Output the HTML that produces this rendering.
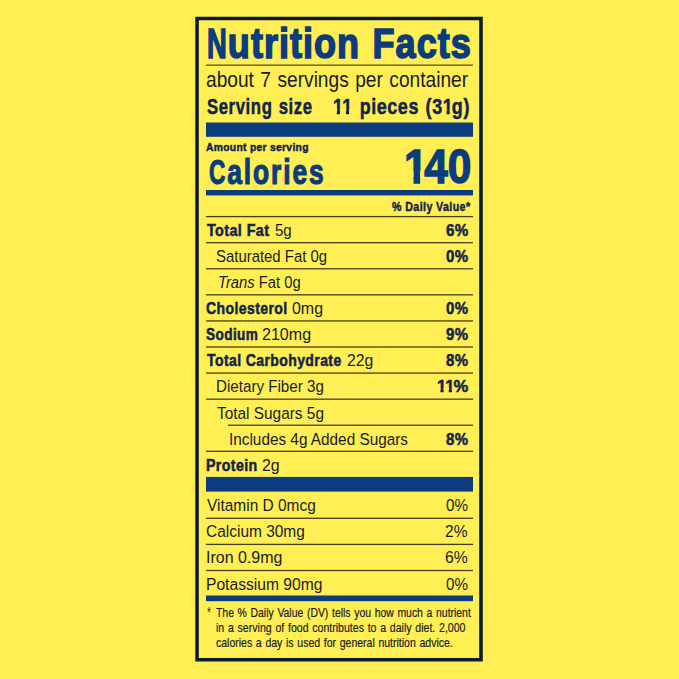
<!DOCTYPE html><html><head><meta charset="utf-8"><title>Nutrition Facts</title><style>
html,body{margin:0;padding:0;width:679px;height:679px;overflow:hidden;background:#ffef55}
body{position:relative;font-family:"Liberation Sans",Arial,sans-serif}
.t{position:absolute;white-space:nowrap;line-height:1;transform-origin:0 0}
.one{display:inline-block;clip-path:polygon(-20% -20%,120% -20%,120% .6em,calc(.3706em + .45px) .6em,calc(.3706em + .45px) 130%,calc(.2334em - .45px) 130%,calc(.2334em - .45px) .6em,-20% .6em);margin-right:-.08em}.cc{display:inline-block;transform:scaleX(.86);transform-origin:0 0;margin-right:-.1em}.nn{display:inline-block;transform:scaleX(.76);transform-origin:0 0;margin-right:-7.4px}.t b{font-weight:bold;-webkit-text-stroke:0.55px #12244a}.t i{font-style:italic}
.g{position:absolute;left:0;top:0}
</style></head><body>
<svg class="g" width="679" height="679" viewBox="0 0 679 679">
<path fill="#0a1b33" fill-rule="evenodd" d="M195.3 16.8H482.8V661.4H195.3Z M198.8 20.2V658H479.2V20.2Z"/>
<rect x="206" y="64.5" width="267" height="1.3" fill="#5a5328"/>
<rect x="206" y="122.5" width="267" height="14.3" fill="#0b3c7d"/>
<rect x="206" y="190" width="267" height="5.4" fill="#0b3c7d"/>
<rect x="206" y="476.9" width="267" height="14.7" fill="#0b3c7d"/>
<rect x="206" y="595.5" width="267" height="5.7" fill="#0b3c7d"/>
<rect x="206" y="215.95" width="267" height="1.3" fill="#463f16"/>
<rect x="206" y="242.03" width="267" height="1.3" fill="#463f16"/>
<rect x="206" y="268.11" width="267" height="1.3" fill="#463f16"/>
<rect x="206" y="294.19" width="267" height="1.3" fill="#463f16"/>
<rect x="206" y="320.27" width="267" height="1.3" fill="#463f16"/>
<rect x="206" y="346.35" width="267" height="1.3" fill="#463f16"/>
<rect x="206" y="372.43" width="267" height="1.3" fill="#463f16"/>
<rect x="206" y="398.51" width="267" height="1.3" fill="#463f16"/>
<rect x="228" y="424.59" width="245" height="1.3" fill="#463f16"/>
<rect x="206" y="450.67" width="267" height="1.3" fill="#463f16"/>
<rect x="206" y="517.65" width="267" height="1.3" fill="#463f16"/>
<rect x="206" y="543.75" width="267" height="1.3" fill="#463f16"/>
<rect x="206" y="569.85" width="267" height="1.3" fill="#463f16"/>
</svg>
<div class="t" id="title" style="left:206.76px;top:22.43px;font-size:42.90px;color:#0b3c7d;transform:scaleX(0.8410);font-weight:bold;-webkit-text-stroke:1.60px #0b3c7d;letter-spacing:1.19px;word-spacing:1.78px"><span class="nn">N</span>utrition Facts</div>
<div class="t" id="about" style="left:206.14px;top:68.50px;font-size:22.00px;color:#181d28;transform:scaleX(0.8691);word-spacing:1.38px">about 7 servings per container</div>
<div class="t" id="ss" style="left:206.98px;top:95.66px;font-size:22.40px;color:#12244a;transform:scaleX(0.7458);font-weight:bold;-webkit-text-stroke:0.50px #12244a;letter-spacing:0.80px;word-spacing:1.34px">Serving size</div>
<div class="t" id="ssv" style="left:332.92px;top:95.91px;font-size:22.40px;color:#12244a;transform:scaleX(0.8000);font-weight:bold;-webkit-text-stroke:0.50px #12244a;letter-spacing:0.75px;word-spacing:1.25px"><span class="one">1</span><span class="one" style="margin-right:.02em">1</span> pieces (3<span class="one">1</span>g)</div>
<div class="t" id="amt" style="left:206.17px;top:142.08px;font-size:11.40px;color:#12244a;transform:scaleX(0.9050);font-weight:bold;-webkit-text-stroke:0.45px #12244a;letter-spacing:0.33px">Amount per serving</div>
<div class="t" id="cal" style="left:209.07px;top:155.45px;font-size:35.70px;color:#0b3c7d;transform:scaleX(0.7382);font-weight:bold;-webkit-text-stroke:1.20px #0b3c7d;letter-spacing:2.57px"><span class="cc">C</span>alories</div>
<div class="t" id="calv" style="left:404.23px;top:142.06px;font-size:48.40px;color:#0b3c7d;transform:scaleX(0.8772);font-weight:bold;-webkit-text-stroke:1.40px #0b3c7d"><span class="one">1</span>40</div>
<div class="t" id="dv" style="left:391.60px;top:200.63px;font-size:12.70px;color:#12244a;transform:scaleX(0.8395);font-weight:bold;-webkit-text-stroke:0.45px #12244a;letter-spacing:0.48px">% Daily Value*</div>
<div class="t" id="r0b" style="left:207.03px;top:221.85px;font-size:17.40px;color:#12244a;transform:scaleX(0.8265);font-weight:bold;-webkit-text-stroke:0.55px #12244a;letter-spacing:0.48px">Total Fat</div>
<div class="t" id="r0" style="left:275.14px;top:221.87px;font-size:17.20px;color:#181d28;transform:scaleX(0.8760)">5g</div>
<div class="t" id="r0p" style="left:446.23px;top:222.14px;font-size:17.40px;color:#12244a;transform:scaleX(0.8717);font-weight:bold;-webkit-text-stroke:0.55px #12244a;letter-spacing:0.46px">6%</div>
<div class="t" id="r1" style="left:215.54px;top:248.48px;font-size:17.20px;color:#181d28;transform:scaleX(0.8676)">Saturated Fat 0g</div>
<div class="t" id="r1p" style="left:446.10px;top:247.64px;font-size:17.40px;color:#12244a;transform:scaleX(0.8609);font-weight:bold;-webkit-text-stroke:0.55px #12244a;letter-spacing:0.46px">0%</div>
<div class="t" id="r2" style="left:217.66px;top:274.18px;font-size:17.20px;color:#181d28;transform:scaleX(0.8596)"><i>Trans</i> Fat 0g</div>
<div class="t" id="r3b" style="left:206.06px;top:300.09px;font-size:17.40px;color:#12244a;transform:scaleX(0.8070);font-weight:bold;-webkit-text-stroke:0.55px #12244a;letter-spacing:0.50px">Cholesterol</div>
<div class="t" id="r3" style="left:292.00px;top:300.27px;font-size:17.20px;color:#181d28;transform:scaleX(0.9278)">0mg</div>
<div class="t" id="r3p" style="left:446.10px;top:299.84px;font-size:17.40px;color:#12244a;transform:scaleX(0.8609);font-weight:bold;-webkit-text-stroke:0.55px #12244a;letter-spacing:0.46px">0%</div>
<div class="t" id="r4b" style="left:206.18px;top:325.91px;font-size:17.40px;color:#12244a;transform:scaleX(0.7827);font-weight:bold;-webkit-text-stroke:0.55px #12244a;letter-spacing:0.51px">Sodium</div>
<div class="t" id="r4" style="left:262.35px;top:325.87px;font-size:17.20px;color:#181d28;transform:scaleX(0.9338)">210mg</div>
<div class="t" id="r4p" style="left:446.49px;top:326.29px;font-size:17.40px;color:#12244a;transform:scaleX(0.8613);font-weight:bold;-webkit-text-stroke:0.55px #12244a;letter-spacing:0.46px">9%</div>
<div class="t" id="r5b" style="left:206.97px;top:351.89px;font-size:17.40px;color:#12244a;transform:scaleX(0.8054);font-weight:bold;-webkit-text-stroke:0.55px #12244a;letter-spacing:0.50px">Total Carbohydrate</div>
<div class="t" id="r5" style="left:346.54px;top:351.87px;font-size:17.20px;color:#181d28;transform:scaleX(0.9166)">22g</div>
<div class="t" id="r5p" style="left:446.26px;top:352.04px;font-size:17.40px;color:#12244a;transform:scaleX(0.8587);font-weight:bold;-webkit-text-stroke:0.55px #12244a;letter-spacing:0.47px">8%</div>
<div class="t" id="r6" style="left:215.84px;top:377.78px;font-size:17.20px;color:#181d28;transform:scaleX(0.8818)">Dietary Fiber 3g</div>
<div class="t" id="r6p" style="left:436.97px;top:377.66px;font-size:17.40px;color:#12244a;transform:scaleX(0.9543);font-weight:bold;-webkit-text-stroke:0.55px #12244a;letter-spacing:0.42px"><span class="one">1</span><span class="one">1</span>%</div>
<div class="t" id="r7" style="left:217.20px;top:404.68px;font-size:17.20px;color:#181d28;transform:scaleX(0.8956)">Total Sugars 5g</div>
<div class="t" id="r8" style="left:229.26px;top:431.18px;font-size:17.20px;color:#181d28;transform:scaleX(0.8920)">Includes 4g Added Sugars</div>
<div class="t" id="r8p" style="left:446.26px;top:430.84px;font-size:17.40px;color:#12244a;transform:scaleX(0.8587);font-weight:bold;-webkit-text-stroke:0.55px #12244a;letter-spacing:0.47px">8%</div>
<div class="t" id="r9b" style="left:206.28px;top:457.49px;font-size:17.40px;color:#12244a;transform:scaleX(0.8153);font-weight:bold;-webkit-text-stroke:0.55px #12244a;letter-spacing:0.49px">Protein</div>
<div class="t" id="r9" style="left:262.39px;top:457.47px;font-size:17.20px;color:#181d28;transform:scaleX(0.9246)">2g</div>
<div class="t" id="v0" style="left:206.60px;top:497.48px;font-size:17.20px;color:#181d28;transform:scaleX(0.8989)">Vitamin D 0mcg</div>
<div class="t" id="v0p" style="left:446.00px;top:497.48px;font-size:17.20px;color:#181d28;transform:scaleX(0.8836)">0%</div>
<div class="t" id="v1" style="left:205.99px;top:523.08px;font-size:17.20px;color:#181d28;transform:scaleX(0.9000)">Calcium 30mg</div>
<div class="t" id="v1p" style="left:445.27px;top:523.48px;font-size:17.20px;color:#181d28;transform:scaleX(0.9049)">2%</div>
<div class="t" id="v2" style="left:205.65px;top:549.28px;font-size:17.20px;color:#181d28;transform:scaleX(0.9307)">Iron 0.9mg</div>
<div class="t" id="v2p" style="left:445.48px;top:548.88px;font-size:17.20px;color:#181d28;transform:scaleX(0.9147)">6%</div>
<div class="t" id="v3" style="left:205.58px;top:576.28px;font-size:17.20px;color:#181d28;transform:scaleX(0.9093)">Potassium 90mg</div>
<div class="t" id="v3p" style="left:446.00px;top:576.08px;font-size:17.20px;color:#181d28;transform:scaleX(0.8836)">0%</div>
<div class="t" id="fa" style="left:207.30px;top:604.15px;font-size:15.00px;color:#181d28;transform:scaleX(0.6605)">*</div>
<div class="t" id="f1" style="left:216.20px;top:606.74px;font-size:12.90px;color:#181d28;transform:scaleX(0.8073);-webkit-text-stroke:0.20px #181d28;word-spacing:0.99px">The % Daily Value (DV) tells you how much a nutrient</div>
<div class="t" id="f2" style="left:215.53px;top:622.04px;font-size:12.90px;color:#181d28;transform:scaleX(0.8198);-webkit-text-stroke:0.20px #181d28;word-spacing:0.98px">in a serving of food contributes to a daily diet. 2,000</div>
<div class="t" id="f3" style="left:215.66px;top:636.74px;font-size:12.90px;color:#181d28;transform:scaleX(0.8138);-webkit-text-stroke:0.20px #181d28;word-spacing:0.98px">calories a day is used for general nutrition advice.</div>
</body></html>
